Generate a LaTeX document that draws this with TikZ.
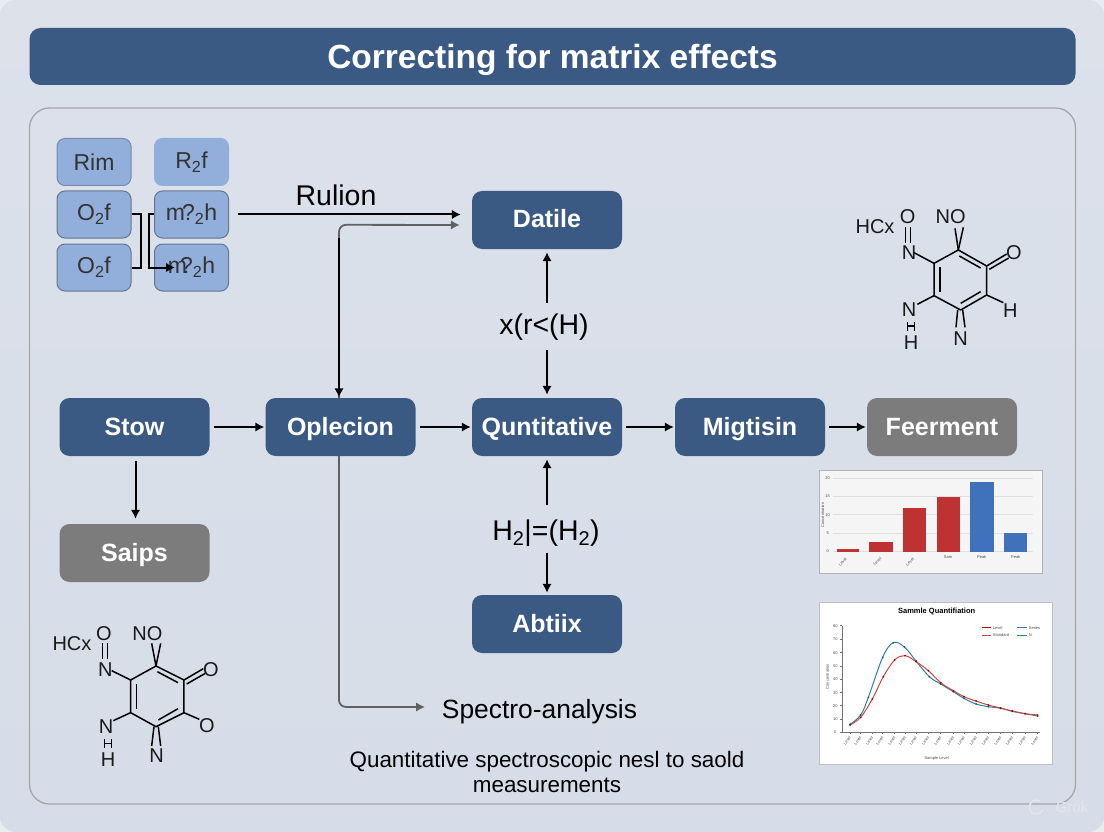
\documentclass[tikz,border=0pt]{standalone}
\usepackage{fontspec}
\setmainfont{Liberation Sans}
\usetikzlibrary{arrows.meta,calc}
\definecolor{bgtop}{HTML}{DCE1EA}
\definecolor{bgbot}{HTML}{D6DDE8}
\definecolor{outerc}{HTML}{E9ECF1}
\definecolor{markc}{HTML}{E2E6ED}
\definecolor{navy}{HTML}{3A5A84}
\definecolor{grayb}{HTML}{7C7C7C}
\definecolor{lightb}{HTML}{92AEDB}
\definecolor{lightbd}{HTML}{66768F}
\definecolor{barred}{HTML}{BE3232}
\definecolor{barblue}{HTML}{4072BC}
\definecolor{linered}{HTML}{C84A44}
\definecolor{lineblue}{HTML}{2F7FA8}
\newcommand{\fs}[1]{\fontsize{#1}{#1}\selectfont}
\tikzset{
  x=1pt,y=-1pt,
  mainbox/.style={draw=none,rounded corners=10pt,minimum width=150pt,minimum height=58pt,inner sep=0pt,text=white,text height=18pt,text depth=2pt,font=\fs{25}\bfseries},
  bluebox/.style={mainbox,fill=navy},
  graybox/.style={mainbox,fill=grayb},
  smallbox/.style={draw=lightbd,line width=1pt,fill=lightb,rounded corners=8pt,minimum width=74pt,minimum height=47pt,inner sep=0pt,text=black!80,font=\fs{23}},
  arr/.style={draw=black,line width=2pt,-{Latex[length=9pt,width=9.5pt]}},
  grayarr/.style={draw=black!62,line width=1.8pt,rounded corners=7pt,-{Latex[length=9pt,width=9.5pt]}},
  lab/.style={inner sep=0pt,text=black,font=\fs{28.5}},
  bond/.style={draw=black,line width=1.5pt},
  atom/.style={inner sep=0pt,text=black!90,font=\fs{20}},
  gridl/.style={draw=black!12,line width=.5pt},
  tick/.style={inner sep=0pt,text=black!70,font=\fs{4}},
}
\begin{document}
\begin{tikzpicture}
\useasboundingbox (0,0) rectangle (1104,832);
\fill[outerc] (0,0) rectangle (1104,832);
\shade[top color=bgtop,bottom color=bgbot,rounded corners=16pt] (0,0) rectangle (1104,832);
\node[fill=navy,rounded corners=11pt,minimum width=1046pt,minimum height=57pt,inner sep=0pt,text=white,text height=27pt,text depth=2pt,font=\fs{33.5}\bfseries] (title) at (552.5,56.5) {Correcting for matrix effects};
\node[draw=black!35,line width=1.3pt,rounded corners=20pt,minimum width=1046pt,minimum height=696pt,inner sep=0pt] (panel) at (552.5,456) {};

% small boxes
\node[smallbox,draw=lightb!80!black] (rim) at (94,162) {Rim};
\node[smallbox,draw=lightb] (rtf) at (191.5,162) {R$_{\mathrm{2}}$f};
\node[smallbox] (oa) at (94,214.5) {O$_{\mathrm{2}}$f};
\node[smallbox] (ma) at (191.5,214.5) {m\kern-3pt?$_{\mathrm{2}}$h};
\node[smallbox] (ob) at (94,267.5) {O$_{\mathrm{2}}$f};
\node[smallbox] (mb) at (191.5,267.5) {m\kern-7pt?$_{\mathrm{2}}$h};
\draw[black,line width=2pt] (oa.east) -- ++(9,0) |- (ob.east);
\coordinate (mbin) at (175,267.5);
\draw[arr] (ma.west) -- ++(-5,0) |- (mbin);

% main boxes
\node[bluebox] (stow) at (134.5,427) {Stow};
\node[bluebox] (opl) at (340.5,427) {Oplecion};
\node[bluebox] (qun) at (547,427) {Quntitative};
\node[bluebox] (mig) at (750,427) {Migtisin};
\node[graybox] (fee) at (942,427) {Feerment};
\node[graybox] (sai) at (134.5,553) {Saips};
\node[bluebox] (dat) at (547,220) {Datile};
\node[bluebox] (abt) at (547,624) {Abtiix};

% labels
\node[lab] (rul) at (336,195) {Rulion};
\node[lab] (xr) at (544,327) {x(r<(H)};
\node[lab] (hh) at (546,533) {H$_{\mathrm{2}}$|=(H$_{\mathrm{2}}$)};
\node[lab,font=\fs{26.4}] (spe) at (539.5,712) {Spectro-analysis};
\node[inner sep=0pt,align=center,text=black,font=\fs{22.4}] (cap) at (547,772) {Quantitative spectroscopic nesl to saold\\[2pt]measurements};
\node[inner sep=0pt,text=markc,font=\fs{15}] (grok) at (1072,807) {Grok};
\draw[markc,line width=1.5pt] (1043,809.4) arc (20:300:7);

% connectors
\draw[arr,shorten <=9pt,shorten >=11pt] (ma.east) -- (ma.east -| dat.west);
\draw[grayarr,shorten >=12pt] (opl.north) ++(-1.5,0) -- ++(0,-173) -- (dat.west |- 0,225);
\coordinate (optop) at ($(opl.north)+(-1.5,-160)$);
\draw[arr,shorten >=0.5pt] (optop) -- ($(opl.north)+(-1.5,0)$);
\draw[arr,shorten <=4pt,shorten >=1pt] (stow) -- (opl);
\draw[arr,shorten <=4pt,shorten >=1pt] (opl) -- (qun);
\draw[arr,shorten <=4pt,shorten >=1pt] (qun) -- (mig);
\draw[arr,shorten <=4pt,shorten >=1pt] (mig) -- (fee);
\draw[arr,shorten <=5pt,shorten >=5pt] ($(stow.south)+(1,0)$) -- ($(sai.north)+(1,0)$);
\draw[arr,shorten >=3pt] (xr.north -| dat) ++(0,-11) -- (dat.south);
\draw[arr,shorten >=3pt] (xr.south -| qun) ++(0,10) -- (qun.north);
\draw[arr,shorten >=3pt] (hh.north -| qun) ++(0,-14) -- (qun.south);
\draw[arr,shorten >=2pt] (hh.south -| abt) ++(0,6) -- (abt.north);
\coordinate (spein) at (425,707);
\draw[grayarr] ($(opl.south)+(-1.5,0)$) |- (spein);

% molecule top right
\begin{scope}[shift={(830,190)},x=1/3*1pt,y=-1/3*1pt]
\draw[bond,line join=round] (385,180) -- (470,228) -- (470,315) -- (392,360) -- (312,317) -- (312,220) -- cycle;
\draw[bond] (388,198) -- (452,234);
\draw[bond] (452,305) -- (392,340);
\draw[bond] (330,305) -- (330,232);
\draw[bond] (312,220) -- (252,188);
\draw[bond] (227,158) -- (227,112);
\draw[bond] (242,158) -- (242,112);
\draw[bond] (385,180) -- (375,115);
\draw[bond] (385,180) -- (400,112);
\draw[bond] (470,228) -- (530,192);
\draw[bond] (478,238) -- (536,204);
\draw[bond] (470,315) -- (520,338);
\draw[bond] (312,317) -- (262,343);
\draw[bond] (383,360) -- (378,412);
\draw[bond] (398,360) -- (405,412);
\draw[bond] (232,396) -- (232,422);
\draw[bond] (254,396) -- (254,422);
\draw[bond] (232,408) -- (254,408);
\node[atom] (t1) at (135,110) {HCx};
\node[atom] (t2) at (233,80) {O};
\node[atom] (t3) at (362,80) {NO};
\node[atom] (t4) at (237,188) {N};
\node[atom] (t5) at (552,188) {O};
\node[atom] (t6) at (541,362) {H};
\node[atom] (t7) at (237,358) {N};
\node[atom] (t8) at (243,458) {H};
\node[atom] (t9) at (392,445) {N};
\end{scope}

% molecule bottom left
\begin{scope}[shift={(30,610)},x=1/3*1pt,y=-1/3*1pt]
\draw[bond,line join=round] (378,168) -- (462,210) -- (462,308) -- (378,350) -- (302,308) -- (302,210) -- cycle;
\draw[bond] (382,185) -- (444,218);
\draw[bond] (444,296) -- (385,330);
\draw[bond] (320,296) -- (320,222);
\draw[bond] (302,210) -- (245,182);
\draw[bond] (218,148) -- (218,100);
\draw[bond] (233,148) -- (233,100);
\draw[bond] (378,168) -- (365,100);
\draw[bond] (378,168) -- (392,100);
\draw[bond] (462,210) -- (520,176);
\draw[bond] (470,222) -- (526,190);
\draw[bond] (462,308) -- (508,328);
\draw[bond] (302,308) -- (250,332);
\draw[bond] (372,350) -- (365,408);
\draw[bond] (385,350) -- (392,408);
\draw[bond] (223,388) -- (223,414);
\draw[bond] (245,388) -- (245,414);
\draw[bond] (223,400) -- (245,400);
\node[atom] (b1) at (126,102) {HCx};
\node[atom] (b2) at (222,70) {O};
\node[atom] (b3) at (352,70) {NO};
\node[atom] (b4) at (226,178) {N};
\node[atom] (b5) at (543,178) {O};
\node[atom] (b6) at (531,348) {O};
\node[atom] (b7) at (228,350) {N};
\node[atom] (b8) at (234,448) {H};
\node[atom] (b9) at (380,436) {N};
\end{scope}

% charts
\begin{scope}[shift={(810,460)},x=1/3*1pt,y=-1/3*1pt]
% bar chart
\draw[draw=black!30,line width=1pt,fill=black!4] (28,32) rectangle (698,340);
\foreach \y in {55,109,164,219,273} \draw[gridl] (68,\y) -- (668,\y);
\fill[barred] (80,267) rectangle (148,275);
\fill[barred] (178,246) rectangle (248,275);
\fill[barred] (278,143) rectangle (348,275);
\fill[barred] (380,112) rectangle (450,275);
\fill[barblue] (481,67) rectangle (551,275);
\fill[barblue] (583,218) rectangle (652,275);
\foreach \y/\t in {55/20,109/15,164/10,219/5,273/0} \node[tick] at (53,\y) {\t};
\node[tick,rotate=90] at (38,165) {Concentration};
\node[tick,rotate=45] at (98,306) {Level};
\node[tick,rotate=45] at (202,304) {Level};
\node[tick,rotate=45] at (300,306) {Level};
\node[tick] at (414,292) {Sam};
\node[tick] at (515,292) {Peak};
\node[tick] at (617,292) {Peak};
% line chart
\draw[draw=black!25,line width=1pt,fill=white] (29,426) rectangle (728,912);
\node[inner sep=0pt,text=black,font=\fs{7.5}\bfseries] at (380,455) {Sammle Quantifiation};
\draw[black!55,line width=.6pt] (96,497) -- (96,817) -- (690,817);
\foreach \y/\t in {497/80,537/70,578/60,618/50,658/40,698/30,737/20,777/10,817/0} {
  \draw[black!55,line width=.4pt] (90,\y) -- (96,\y);
  \node[tick] at (76,\y) {\t};
}
\foreach \x in {120,152,187,218,254,285,318,355,392,430,462,498,535,572,607,645,683} {
  \draw[black!55,line width=.4pt] (\x,817) -- (\x,823);
  \node[tick,rotate=55,anchor=east] at (\x,830) {Level};
}
\node[tick,rotate=90] at (52,650) {Concentration};
\node[tick] at (380,896) {Sample Level};
\draw[red!75!black,line width=1.6pt] (516,503) -- (542,503);
\node[tick,anchor=west] at (548,503) {Level};
\draw[barblue,line width=1.6pt] (622,503) -- (650,503);
\node[tick,anchor=west] at (656,503) {Series};
\draw[linered,line width=1.6pt] (516,526) -- (542,526);
\node[tick,anchor=west] at (548,526) {Standard};
\draw[lineblue,line width=1.6pt] (622,526) -- (650,526);
\node[tick,anchor=west] at (656,526) {N};
\draw[lineblue,line width=1pt] plot[smooth,tension=.6] coordinates {(120,793)(152,765)(175,712)(218,592)(250,548)(283,561)(318,603)(358,650)(392,672)(430,695)(462,715)(498,732)(535,740)(572,745)(607,754)(645,761)(683,765)};
\draw[linered,line width=1pt] plot[smooth,tension=.6] coordinates {(120,795)(152,772)(187,717)(220,650)(254,600)(285,587)(318,605)(355,632)(392,668)(430,692)(462,710)(498,723)(535,735)(572,744)(607,753)(645,761)(683,768)};
\foreach \x/\y in {120/793,152/765,175/712,218/592,250/548,283/561,318/603,358/650,392/672,430/695,462/715,498/732,535/740,572/745,607/754,645/761,683/765}
  \fill[lineblue!70!black] (\x,\y) circle (1pt);
\foreach \x/\y in {120/795,152/772,187/717,220/650,254/600,285/587,318/605,355/632,392/668,430/692,462/710,498/723,535/735,572/744,607/753,645/761,683/768}
  \fill[red!60!black] (\x,\y) circle (1pt);
\end{scope}
\end{tikzpicture}
\end{document}
